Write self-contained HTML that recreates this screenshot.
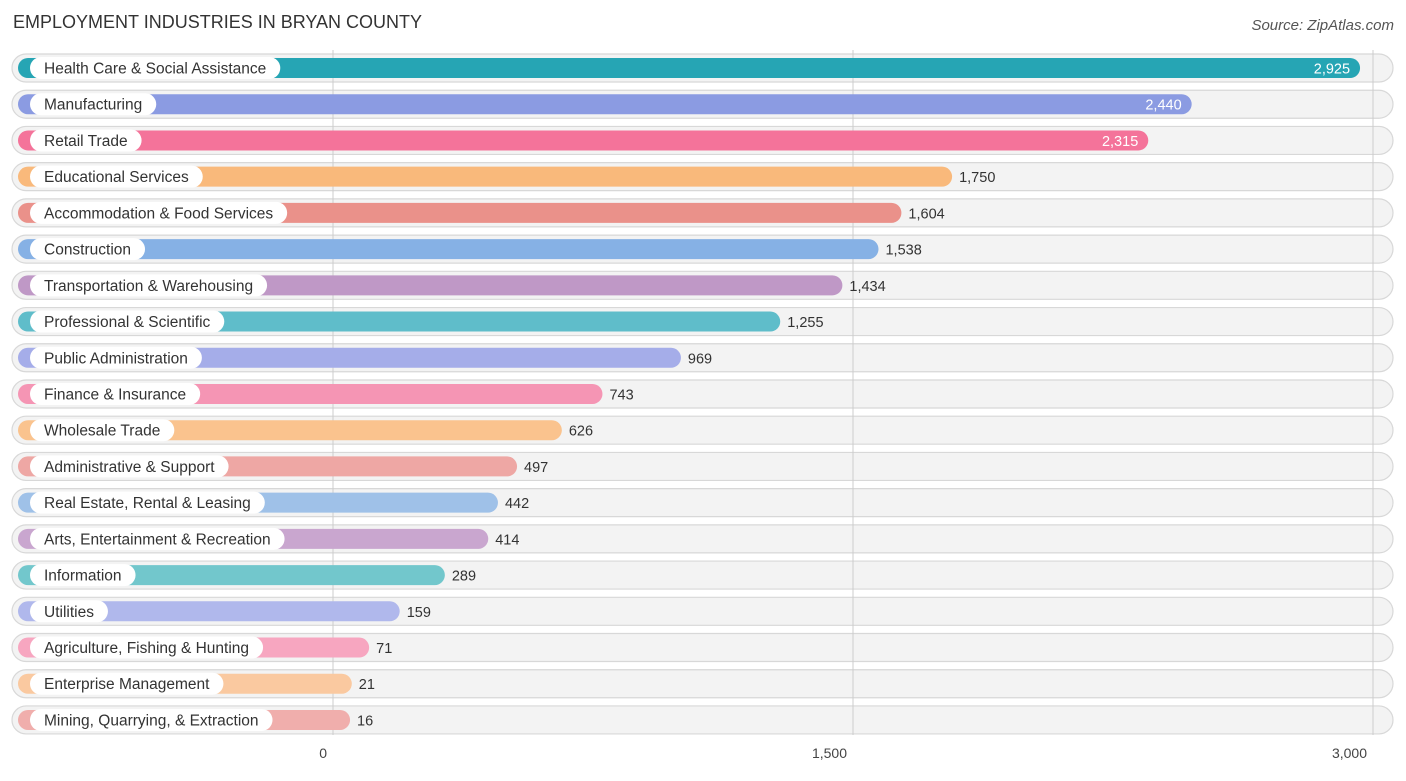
<!DOCTYPE html>
<html><head><meta charset="utf-8"><style>
body{margin:0;background:#fff;font-family:"Liberation Sans",sans-serif;}
svg text{font-family:"Liberation Sans",sans-serif;}
</style></head><body>
<svg id="c" width="1406" height="776" xmlns="http://www.w3.org/2000/svg">
<text x="13" y="28" font-size="18" fill="#333">EMPLOYMENT INDUSTRIES IN BRYAN COUNTY</text>
<text x="1394" y="30" font-size="15" fill="#555" text-anchor="end" font-style="italic">Source: ZipAtlas.com</text>
<g id="grid"></g><g id="rows"></g>
</svg>
<script>
const categories=["Health Care & Social Assistance","Manufacturing","Retail Trade","Educational Services","Accommodation & Food Services","Construction","Transportation & Warehousing","Professional & Scientific","Public Administration","Finance & Insurance","Wholesale Trade","Administrative & Support","Real Estate, Rental & Leasing","Arts, Entertainment & Recreation","Information","Utilities","Agriculture, Fishing & Hunting","Enterprise Management","Mining, Quarrying, & Extraction"];
const values=[2925,2440,2315,1750,1604,1538,1434,1255,969,743,626,497,442,414,289,159,71,21,16];
const colors=["#26a5b4","#8b9be2","#f4739a","#f9b97b","#ea918a","#86b1e5","#bf98c6","#5fbdca","#a5ade9","#f595b4","#fac38e","#eea7a4","#9fc1e8","#c9a6cf","#72c7cc","#b0b8ec","#f7a6c0","#fac9a0","#f0aeac"];
const ticks=[0,1500,3000];
const tickLabels=["0","1,500","3,000"];
const NS="http://www.w3.org/2000/svg";
function mk(t,a,p){const e=document.createElementNS(NS,t);for(const k in a)e.setAttribute(k,a[k]);p.appendChild(e);return e;}
const gx=v=>333+v*520/1500;
const bx=v=>344.5+v*0.3472;
const ry=i=>68+i*36.22;
const grid=document.getElementById('grid'),rows=document.getElementById('rows');
categories.forEach((c,i)=>{
 const y=ry(i);
 const tr=mk('rect',{x:12,y:y-14,width:1381,height:28,rx:14,fill:'#f3f3f3',stroke:'#d8d8d8','stroke-width':1.2},grid);
 
 
});
ticks.forEach((t,i)=>{
 const x=gx(t);
 const l=mk('line',{x1:x,x2:x,y1:50,y2:735,stroke:'#ccc','stroke-width':1},grid);
 
 
 const tx=mk('text',{x:x-6,y:758,'font-size':14,fill:'#444','text-anchor':'end'},grid);
 tx.textContent=tickLabels[i];
 
 
});
categories.forEach((c,i)=>{
 const y=ry(i),v=values[i],end=bx(v);
 const g=mk('g',{},rows);
 
 
 const b=mk('rect',{x:18,y:y-10,width:end-18,height:20,rx:10,fill:colors[i]},g);
 
 
 const lbl=mk('text',{x:44,y:y+5.5,'font-size':15.5,fill:'#333'},g);
 lbl.textContent=c;
 const w=lbl.getComputedTextLength();
 const p=mk('rect',{x:30,y:y-11,width:w+28,height:22,rx:11,fill:'#fff'},g);
 
 
 g.appendChild(lbl);
 
 
 const inside=v>2000;
 const vt=mk('text',{x:inside?end-10:end+7,y:y+5.5,'font-size':14.5,fill:inside?'#fff':'#333','text-anchor':inside?'end':'start'},g);
 vt.textContent=v.toLocaleString('en-US');
 
 
});
</script>
</body></html>
